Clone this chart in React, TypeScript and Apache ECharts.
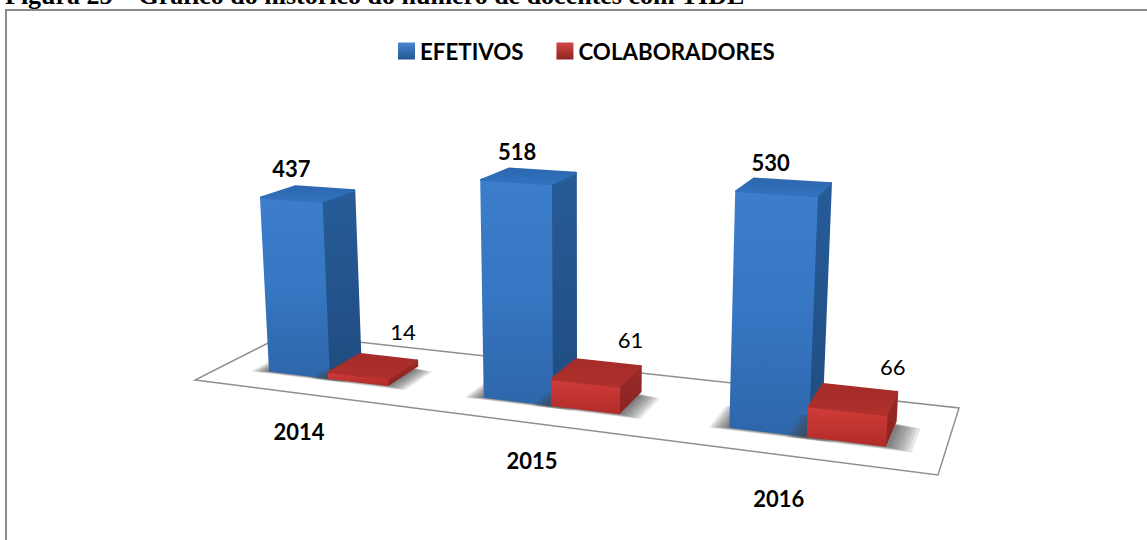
import React, { useEffect, useRef } from "react";
import * as echarts from "echarts";

const TITLE = "Figura 25 – Gráfico do histórico do número de docentes com TIDE";
const YEARS = ["2014", "2015", "2016"];
const EFETIVOS = [437, 518, 530];
const COLABORADORES = [14, 61, 66];
const SERIES_NAMES = ["EFETIVOS", "COLABORADORES"];

const Y_MAX = 600;
const GRID = { left: 100, top: 100, width: 900, height: 240 };
const FONT = "Lato, Carlito, 'Open Sans', sans-serif";

// floor plane → screen (homography of the unit square)
const H = { a: 563, b: 122.46, c: 195, d: 3.85, e: -9.26, f: 380, g: -0.1919, h: 0.11 };
const project = (u: number, v: number) => {
  const w = H.g * u + H.h * v + 1;
  return [(H.a * u + H.b * v + H.c) / w, (H.d * u + H.e * v + H.f) / w];
};
// verticals converge on a point far below the picture; nearer things look taller
const VP = [581, 6370];
const raise = (p: number[], heightPx: number) => {
  const h = heightPx * (0.99 + 0.00215 * (p[1] - 370));
  return [p[0] + (h * (p[0] - VP[0])) / (VP[1] - p[1]), p[1] - h];
};

const BAR_W = [0.096, 0.092];
const CLUSTER_SHIFT = 0.09;
const V_FRONT = 0.3;
const V_BACK = 0.68;
const CAT_LABEL_OFFSET = [[-30, 54], [-20, 55], [-29, 62]];
const VALUE_LABEL_DX = [0, 1, -6];
const SHADOW_LAYERS = [1, 0.85, 0.7, 0.55, 0.4, 0.25, 0.1, 0];

const grad = (stops: string[]) =>
  new echarts.graphic.LinearGradient(
    0,
    0,
    0,
    1,
    stops.map((color, i) => ({ offset: i / (stops.length - 1), color }))
  );

const PALETTE = [
  {
    legend: () => grad(["#4A86CF", "#3570B4", "#24558F"]),
    front: () => grad(["#3C7ECB", "#3676C2", "#2E66AB"]),
    side: () => grad(["#275C99", "#1F4C80"]),
    top: () => grad(["#2C68AF", "#3272BF"]),
  },
  {
    legend: () => grad(["#CF4A46", "#B23431", "#8C2624"]),
    front: () => grad(["#D03C3A", "#C23431", "#B02C2A"]),
    side: () => grad(["#9A2A28", "#8A2422"]),
    top: () => grad(["#A42C29", "#B0302C"]),
  },
];

const poly = (points: number[][], fill: any) => ({
  type: "polygon",
  shape: { points },
  silent: true,
  style: { fill, stroke: fill, lineWidth: 2, lineJoin: "round" },
});

const txt = (text: string, x: number, y: number, bold: boolean) => ({
  type: "text",
  silent: true,
  z2: 20,
  style: {
    text,
    x,
    y,
    fill: "#000",
    font: `${bold ? "bold " : ""}22px ${FONT}`,
    align: "center",
    verticalAlign: "middle",
  },
});

const renderBar = (seriesIdx: number) => (params: any, api: any) => {
  const cat = api.value(0);
  const value = api.value(1);
  const cs = params.coordSys;
  const uc = (api.coord([cat, 0])[0] - cs.x) / cs.width;
  const u0 = uc - CLUSTER_SHIFT + (seriesIdx ? BAR_W[0] : 0);
  const u1 = u0 + BAR_W[seriesIdx];
  const px = api.size([0, value])[1];
  const fl = project(u0, V_FRONT);
  const fr = project(u1, V_FRONT);
  const br = project(u1, V_BACK);
  const bl = project(u0, V_BACK);
  const [tfl, tfr, tbr, tbl] = [fl, fr, br, bl].map((p) => raise(p, px));
  const pal = PALETTE[seriesIdx];
  const shadows = SHADOW_LAYERS.map((d) => ({
    type: "polygon",
    silent: true,
    shape: {
      points: [
        project(u0 - 0.004 - 0.02 * d, V_FRONT - 0.012 - 0.035 * d),
        project(u1 + 0.006 + 0.026 * d, V_FRONT - 0.012 - 0.035 * d),
        project(u1 + 0.006 + 0.026 * d, V_BACK - 0.04 - 0.03 * d),
        project(u0 - 0.004 - 0.02 * d, V_BACK - 0.04 - 0.03 * d),
      ],
    },
    style: { fill: "rgba(70,70,70,0.13)" },
  }));
  const children: any[] = [
    ...shadows,
    poly([fr, br, tbr, tfr], pal.side()),
    poly([fl, fr, tfr, tfl], pal.front()),
    poly([tfl, tfr, tbr, tbl], pal.top()),
  ];
  const mid = [(tfl[0] + tfr[0]) / 2, (tfl[1] + tfr[1]) / 2];
  if (seriesIdx === 0) {
    children.push(txt(String(value), mid[0] + VALUE_LABEL_DX[cat], mid[1] - 31, true));
    const off = CAT_LABEL_OFFSET[cat];
    children.push(txt(YEARS[cat], fr[0] + off[0], fr[1] + off[1], true));
  } else {
    children.push(txt(String(value), mid[0] + 45, mid[1] - 44, false));
  }
  return { type: "group", children };
};

const renderFloor = () => ({
  type: "polygon",
  silent: true,
  shape: { points: [project(0, 0), project(1, 0), project(1, 1), project(0, 1)] },
  style: { fill: "#fff", stroke: "#8f8f8f", lineWidth: 1.5 },
});

export default function App() {
  const ref = useRef<HTMLDivElement>(null);
  useEffect(() => {
    const chart = echarts.init(ref.current!, undefined, { renderer: "svg" });
    chart.setOption({
      animation: false,
      backgroundColor: "#fff",
      grid: GRID,
      xAxis: { type: "category", data: YEARS, show: false },
      yAxis: { type: "value", min: 0, max: Y_MAX, show: false },
      title: {
        text: TITLE,
        left: 5,
        top: -18,
        padding: 0,
        textStyle: {
          fontFamily: "'Liberation Serif', serif",
          fontWeight: "bold",
          fontSize: 26,
          color: "#000",
        },
      },
      legend: {
        left: 398,
        top: 40,
        padding: 0,
        itemWidth: 17,
        itemHeight: 17,
        itemGap: 33,
        selectedMode: false,
        data: SERIES_NAMES.map((name) => ({ name, icon: "rect" })),
        textStyle: { fontFamily: FONT, fontWeight: "bold", fontSize: 22.3, color: "#000" },
      },
      graphic: [
        {
          type: "polyline",
          silent: true,
          shape: { points: [[6, 540], [6, 10], [1147, 10]] },
          style: { fill: "none", stroke: "#8a8a8a", lineWidth: 2 },
        },
      ],
      series: [
        { type: "custom", name: "floor", data: [[0, 0]], renderItem: renderFloor, silent: true, clip: false },
        {
          type: "custom",
          name: SERIES_NAMES[0],
          data: EFETIVOS.map((v, i) => [i, v]),
          encode: { x: 0, y: 1 },
          itemStyle: { color: PALETTE[0].legend() },
          renderItem: renderBar(0),
          clip: false,
        },
        {
          type: "custom",
          name: SERIES_NAMES[1],
          data: COLABORADORES.map((v, i) => [i, v]),
          encode: { x: 0, y: 1 },
          itemStyle: { color: PALETTE[1].legend() },
          renderItem: renderBar(1),
          clip: false,
        },
      ],
    });
    return () => chart.dispose();
  }, []);
  return <div ref={ref} style={{ position: "fixed", left: 0, top: 0, width: 1147, height: 540 }} />;
}
